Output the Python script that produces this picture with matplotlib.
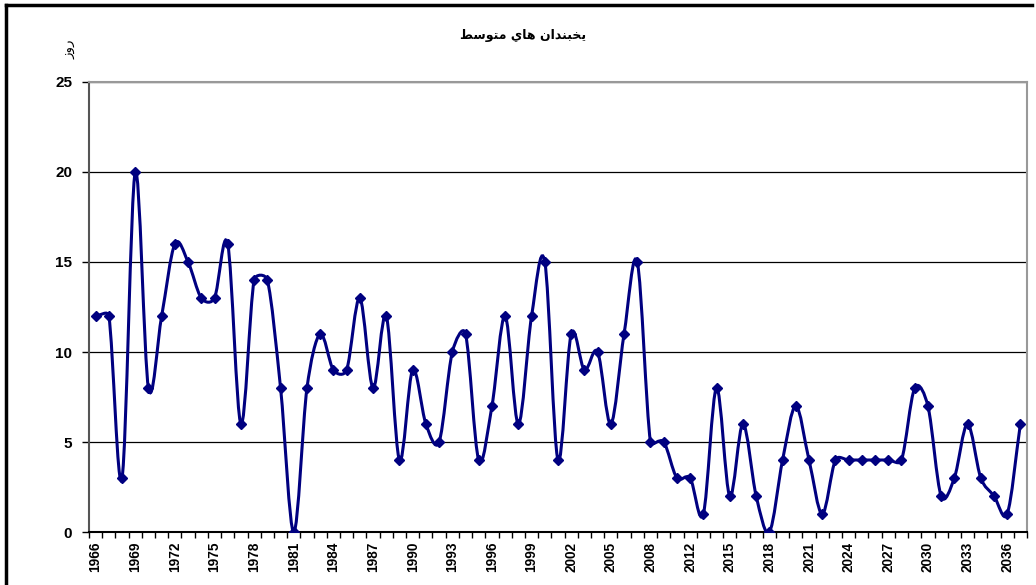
import numpy as np
import matplotlib
matplotlib.use('Agg')
import matplotlib.pyplot as plt
from matplotlib.path import Path
from matplotlib.patches import PathPatch
from matplotlib.lines import Line2D

# categories (years); one year is missing between 2008 and 2012
years = list(range(1966, 2009)) + [2010, 2011] + list(range(2012, 2038))

# average number of frost days per year
days = [12, 12, 3, 20, 8, 12, 16, 15, 13, 13,
        16, 6, 14, 14, 8, 0, 8, 11, 9, 9,
        13, 8, 12, 4, 9, 6, 5, 10, 11, 4,
        7, 12, 6, 12, 15, 4, 11, 9, 10, 6,
        11, 15, 5, 5, 3, 3, 1, 8, 2, 6,
        2, 0, 4, 7, 4, 1, 4, 4, 4, 4,
        4, 4, 8, 7, 2, 3, 6, 3, 2, 1,
        6]

# Persian text in presentation forms, visual order (matplotlib has no shaping)
title_txt = '\uFEC2\uFEB3\uFEEE\uFE98\uFEE3 \uFEF1\uFE8E\uFEEB \uFEE5\uFE8D\uFEAA\uFEE8\uFE92\uFEA8\uFEF3'
ylabel_txt = '\uFEAF\uFEED\uFEAD'

fonts = ['Liberation Sans', 'DejaVu Sans']
navy = '#000080'

x = np.arange(len(days))
y = np.array(days, dtype=float)

fig = plt.figure(figsize=(10.36, 5.85), dpi=100)
ax = fig.add_axes([89 / 1036, 1 - 532 / 585, (1027 - 89) / 1036, (532 - 82) / 585])
ax.set_xlim(-0.5, len(days) - 0.5)
ax.set_ylim(0, 25)

# smoothed line like Excel: bezier arms = 1/6 of the neighbour chord,
# but never longer than half of the adjacent segment (screen space)
fig.canvas.draw()
pix = ax.transData.transform(np.column_stack([x, y]))
n = len(pix)


def arms(i):
    prev = pix[i - 1] if i > 0 else pix[i]
    nxt = pix[i + 1] if i < n - 1 else pix[i]
    t = nxt - prev
    tl = np.hypot(*t)
    if tl == 0:
        return np.zeros(2), np.zeros(2)
    u = t / tl
    length = tl / 6 if 0 < i < n - 1 else tl / 3
    d_in = np.hypot(*(pix[i] - prev))
    d_out = np.hypot(*(nxt - pix[i]))
    return u * min(length, d_in / 2), u * min(length, d_out / 2)


verts = [pix[0]]
codes = [Path.MOVETO]
for i in range(n - 1):
    out_arm = arms(i)[1]
    in_arm = arms(i + 1)[0]
    verts += [pix[i] + out_arm, pix[i + 1] - in_arm, pix[i + 1]]
    codes += [Path.CURVE4] * 3
verts = ax.transData.inverted().transform(np.array(verts))
ax.add_patch(PathPatch(Path(verts, codes), facecolor='none', edgecolor=navy, lw=2.2, zorder=3))
ax.plot(x, y, linestyle='none', marker='D', markersize=5, color=navy, zorder=4)

ax.set_yticks(range(0, 26, 5))
ax.yaxis.grid(True, color='black', linewidth=0.9)
ax.set_axisbelow(True)

# tick marks at category borders, labels every 3rd category
ax.set_xticks(np.arange(-0.5, len(days), 1.0))
ax.set_xticklabels([])
ax.set_xticks(x[::3], [str(v) for v in years[::3]], minor=True)
ax.tick_params(axis='x', which='major', direction='out', length=4, width=1, color='black')
ax.tick_params(axis='x', which='minor', length=0, pad=7, labelrotation=90)
ax.tick_params(axis='y', direction='out', length=5, width=1, pad=7)
for lbl in ax.get_xticklabels(minor=True):
    lbl.set_fontfamily(fonts)
    lbl.set_fontweight('bold')
    lbl.set_fontsize(9.8)
for lbl in ax.get_yticklabels():
    lbl.set_fontfamily(fonts)
    lbl.set_fontweight('bold')
    lbl.set_fontsize(11)

ax.spines['left'].set_color('#555555')
ax.spines['bottom'].set_color('black')
ax.spines['top'].set_color('#999999')
ax.spines['right'].set_color('#999999')
for s in ax.spines.values():
    s.set_linewidth(1.5)

fig.text(523 / 1036, 1 - 35 / 585, title_txt, ha='center', va='center',
         fontsize=9, fontweight='bold', family=['DejaVu Sans'])
fig.text(70 / 1036, 1 - 49 / 585, ylabel_txt, ha='center', va='center',
         fontsize=9.5, rotation=90, family=['DejaVu Sans'])

# chart border (left and top edges visible)
fig.add_artist(Line2D([6 / 1036, 6 / 1036], [0, 1 - 5 / 585], transform=fig.transFigure,
                      color='black', lw=2.5))
fig.add_artist(Line2D([6 / 1036, 1032 / 1036], [1 - 5 / 585, 1 - 5 / 585], transform=fig.transFigure,
                      color='black', lw=2.5))

fig.savefig('out.png', dpi=100)
